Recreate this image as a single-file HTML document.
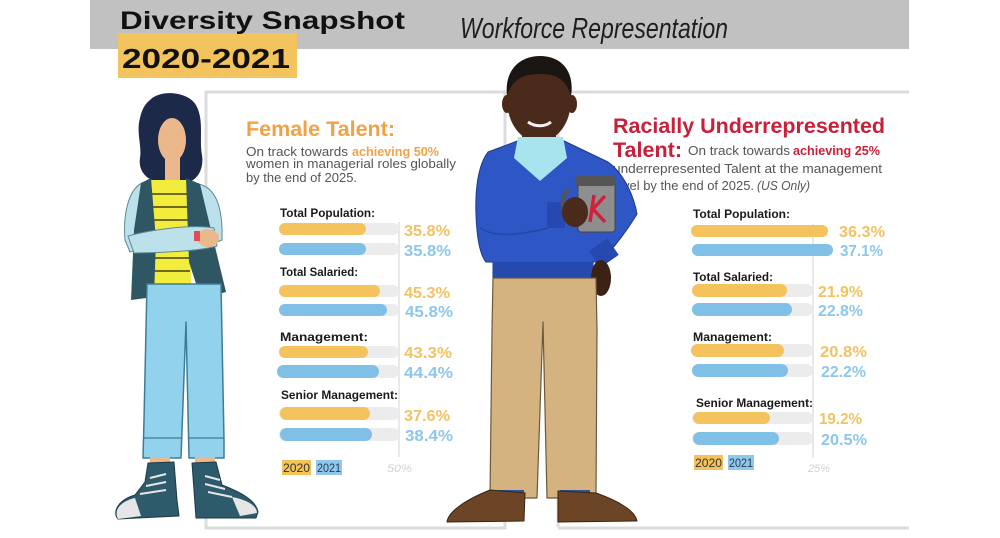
<!DOCTYPE html>
<html>
<head>
<meta charset="utf-8">
<style>
html,body{margin:0;padding:0;background:#fff;}
svg{display:block;}
text{font-family:"Liberation Sans", Arial, sans-serif;}
</style>
</head>
<body>
<svg width="1000" height="538" viewBox="0 0 1000 538" xmlns="http://www.w3.org/2000/svg">
  <rect x="0" y="0" width="1000" height="538" fill="#ffffff"/>

  <!-- Header band -->
  <rect x="90" y="0" width="819" height="49" fill="#c1c1c1"/>
  <rect x="118" y="33" width="179" height="45" fill="#f3c35e"/>
  <text x="120" y="29" font-size="25" font-weight="bold" fill="#111" textLength="285" lengthAdjust="spacingAndGlyphs">Diversity Snapshot</text>
  <text x="122" y="68" font-size="28" font-weight="bold" fill="#111" textLength="168" lengthAdjust="spacingAndGlyphs">2020-2021</text>
  <text x="460" y="38" font-size="29" font-style="italic" fill="#1e1e1e" textLength="268" lengthAdjust="spacingAndGlyphs">Workforce Representation</text>

  <!-- Panels -->
  <rect x="206" y="92" width="299" height="436" fill="none" stroke="#dcdcdc" stroke-width="3"/>
  <path d="M558,527 L558,92 L909,92 M558,528 L909,528" fill="none" stroke="#dcdcdc" stroke-width="3"/>

  <!-- LEFT PANEL TEXT -->
  <text x="246" y="136" font-size="21" font-weight="bold" fill="#f1a247" textLength="149" lengthAdjust="spacingAndGlyphs">Female Talent:</text>
  <text x="246" y="156" font-size="12.5" fill="#555" textLength="102" lengthAdjust="spacingAndGlyphs">On track towards</text>
  <text x="352" y="156" font-size="12.5" font-weight="bold" fill="#f1a247" textLength="87" lengthAdjust="spacingAndGlyphs">achieving 50%</text>
  <text x="246" y="168" font-size="12.5" fill="#555" textLength="210" lengthAdjust="spacingAndGlyphs">women in managerial roles globally</text>
  <text x="246" y="182" font-size="12.5" fill="#555" textLength="111" lengthAdjust="spacingAndGlyphs">by the end of 2025.</text>

  <line x1="399" y1="222" x2="399" y2="457" stroke="#e2e2e2" stroke-width="1.5"/>

  <g font-size="12" font-weight="bold" fill="#1a1a1a">
    <text x="280" y="217" textLength="95" lengthAdjust="spacingAndGlyphs">Total Population:</text>
    <text x="280" y="276" textLength="78" lengthAdjust="spacingAndGlyphs">Total Salaried:</text>
    <text x="280" y="341" textLength="88" lengthAdjust="spacingAndGlyphs">Management:</text>
    <text x="281" y="399" textLength="117" lengthAdjust="spacingAndGlyphs">Senior Management:</text>
  </g>

  <g fill="#ececec">
    <rect x="279" y="223" width="120" height="12" rx="6"/>
    <rect x="279" y="243" width="120" height="12" rx="6"/>
    <rect x="279" y="285" width="120" height="12" rx="6"/>
    <rect x="279" y="304" width="120" height="12" rx="6"/>
    <rect x="279" y="346" width="120" height="12" rx="6"/>
    <rect x="279" y="365" width="120" height="13" rx="6"/>
    <rect x="279" y="407" width="120" height="13" rx="6"/>
    <rect x="279" y="428" width="120" height="13" rx="6"/>
  </g>
  <g fill="#f4c35d">
    <rect x="279" y="223" width="87" height="12" rx="6"/>
    <rect x="279" y="285" width="101" height="12" rx="6"/>
    <rect x="279" y="346" width="89" height="12" rx="6"/>
    <rect x="280" y="407" width="90" height="13" rx="6.5"/>
  </g>
  <g fill="#80c0e7">
    <rect x="279" y="243" width="87" height="12" rx="6"/>
    <rect x="279" y="304" width="108" height="12" rx="6"/>
    <rect x="277" y="365" width="102" height="13" rx="6.5"/>
    <rect x="280" y="428" width="92" height="13" rx="6.5"/>
  </g>
  <g font-size="16" font-weight="bold">
    <text x="404" y="236" fill="#f3c263" textLength="46" lengthAdjust="spacingAndGlyphs">35.8%</text>
    <text x="404" y="256" fill="#8dc7eb" textLength="47" lengthAdjust="spacingAndGlyphs">35.8%</text>
    <text x="404" y="298" fill="#f3c263" textLength="46" lengthAdjust="spacingAndGlyphs">45.3%</text>
    <text x="405" y="317" fill="#8dc7eb" textLength="48" lengthAdjust="spacingAndGlyphs">45.8%</text>
    <text x="404" y="358" fill="#f3c263" textLength="48" lengthAdjust="spacingAndGlyphs">43.3%</text>
    <text x="404" y="378" fill="#8dc7eb" textLength="49" lengthAdjust="spacingAndGlyphs">44.4%</text>
    <text x="404" y="421" fill="#f3c263" textLength="46" lengthAdjust="spacingAndGlyphs">37.6%</text>
    <text x="405" y="441" fill="#8dc7eb" textLength="48" lengthAdjust="spacingAndGlyphs">38.4%</text>
  </g>
  <rect x="282" y="460" width="29" height="15" fill="#f3c35a"/>
  <rect x="316" y="460" width="26" height="15" fill="#8ec8ec"/>
  <text x="283" y="472" font-size="11.5" fill="#333" textLength="27" lengthAdjust="spacingAndGlyphs">2020</text>
  <text x="317" y="472" font-size="11.5" fill="#2a3a55" textLength="24" lengthAdjust="spacingAndGlyphs">2021</text>
  <text x="387" y="472" font-size="11" font-style="italic" fill="#d2d2d2" textLength="25" lengthAdjust="spacingAndGlyphs">50%</text>

  <!-- RIGHT PANEL TEXT -->
  <text x="613" y="133" font-size="21" font-weight="bold" fill="#c8203b" textLength="272" lengthAdjust="spacingAndGlyphs">Racially Underrepresented</text>
  <text x="613" y="157" font-size="21" font-weight="bold" fill="#c8203b" textLength="69" lengthAdjust="spacingAndGlyphs">Talent:</text>
  <text x="688" y="155" font-size="12.5" fill="#555" textLength="102" lengthAdjust="spacingAndGlyphs">On track towards</text>
  <text x="793" y="155" font-size="12.5" font-weight="bold" fill="#c8203b" textLength="87" lengthAdjust="spacingAndGlyphs">achieving 25%</text>
  <text x="613" y="173" font-size="12.5" fill="#555" textLength="269" lengthAdjust="spacingAndGlyphs">underrepresented Talent at the management</text>
  <text x="613" y="190" font-size="12.5" fill="#555" textLength="141" lengthAdjust="spacingAndGlyphs">level by the end of 2025.</text>
  <text x="757" y="190" font-size="12.5" font-style="italic" fill="#555" textLength="53" lengthAdjust="spacingAndGlyphs">(US Only)</text>

  <line x1="813" y1="224" x2="813" y2="458" stroke="#e2e2e2" stroke-width="1.5"/>

  <g font-size="12" font-weight="bold" fill="#1a1a1a">
    <text x="693" y="218" textLength="97" lengthAdjust="spacingAndGlyphs">Total Population:</text>
    <text x="693" y="281" textLength="80" lengthAdjust="spacingAndGlyphs">Total Salaried:</text>
    <text x="693" y="341" textLength="79" lengthAdjust="spacingAndGlyphs">Management:</text>
    <text x="696" y="407" textLength="117" lengthAdjust="spacingAndGlyphs">Senior Management:</text>
  </g>
  <g fill="#ececec">
    <rect x="692" y="284" width="121" height="13" rx="6.5"/>
    <rect x="692" y="303" width="121" height="13" rx="6.5"/>
    <rect x="692" y="344" width="121" height="13" rx="6.5"/>
    <rect x="692" y="364" width="121" height="13" rx="6.5"/>
    <rect x="692" y="412" width="121" height="12" rx="6"/>
    <rect x="692" y="432" width="121" height="13" rx="6.5"/>
  </g>
  <g fill="#f4c35d">
    <rect x="691" y="225" width="137" height="12" rx="6"/>
    <rect x="692" y="284" width="95" height="13" rx="6.5"/>
    <rect x="691" y="344" width="93" height="13" rx="6.5"/>
    <rect x="693" y="412" width="77" height="12" rx="6"/>
  </g>
  <g fill="#80c0e7">
    <rect x="692" y="244" width="141" height="12" rx="6"/>
    <rect x="692" y="303" width="100" height="13" rx="6.5"/>
    <rect x="692" y="364" width="96" height="13" rx="6.5"/>
    <rect x="693" y="432" width="86" height="13" rx="6.5"/>
  </g>
  <g font-size="16" font-weight="bold">
    <text x="839" y="237" fill="#f3c263" textLength="46" lengthAdjust="spacingAndGlyphs">36.3%</text>
    <text x="840" y="256" fill="#8dc7eb" textLength="43" lengthAdjust="spacingAndGlyphs">37.1%</text>
    <text x="818" y="297" fill="#f3c263" textLength="45" lengthAdjust="spacingAndGlyphs">21.9%</text>
    <text x="818" y="316" fill="#8dc7eb" textLength="45" lengthAdjust="spacingAndGlyphs">22.8%</text>
    <text x="820" y="357" fill="#f3c263" textLength="47" lengthAdjust="spacingAndGlyphs">20.8%</text>
    <text x="821" y="377" fill="#8dc7eb" textLength="45" lengthAdjust="spacingAndGlyphs">22.2%</text>
    <text x="819" y="424" fill="#f3c263" textLength="43" lengthAdjust="spacingAndGlyphs">19.2%</text>
    <text x="821" y="445" fill="#8dc7eb" textLength="46" lengthAdjust="spacingAndGlyphs">20.5%</text>
  </g>
  <rect x="694" y="455" width="29" height="15" fill="#f3c35a"/>
  <rect x="728" y="455" width="26" height="15" fill="#8ec8ec"/>
  <text x="695" y="467" font-size="11.5" fill="#333" textLength="27" lengthAdjust="spacingAndGlyphs">2020</text>
  <text x="729" y="467" font-size="11.5" fill="#2a3a55" textLength="24" lengthAdjust="spacingAndGlyphs">2021</text>
  <text x="808" y="472" font-size="11" font-style="italic" fill="#d2d2d2" textLength="22" lengthAdjust="spacingAndGlyphs">25%</text>

  <!-- WOMAN -->
  <g stroke-linejoin="round">
    <path d="M150,100 C160,89 190,91 197,107 C204,122 199,140 202,155 C204,168 198,180 188,182 L158,182 C146,180 138,170 140,158 C142,146 136,132 140,118 C142,109 145,104 150,100 Z" fill="#1d2948"/>
    <ellipse cx="172" cy="140" rx="14" ry="22" fill="#ebb88c"/>
    <rect x="165" y="158" width="15" height="24" fill="#ebb88c"/>
    <path d="M150,180 L190,180 L191,286 L150,286 Z" fill="#f2ec3c"/>
    <g stroke="#6d6a22" stroke-width="2">
      <line x1="150" y1="194" x2="190" y2="194"/>
      <line x1="150" y1="207" x2="190" y2="207"/>
      <line x1="150" y1="220" x2="190" y2="220"/>
      <line x1="150" y1="258" x2="190" y2="258"/>
      <line x1="150" y1="271" x2="190" y2="271"/>
    </g>
    <path d="M142,183 C128,190 123,215 125,240 L130,252 L147,247 L147,205 Z" fill="#bde1eb" stroke="#5a8a98" stroke-width="1"/>
    <path d="M199,184 C215,188 223,205 222,240 L207,246 L204,210 Z" fill="#bde1eb" stroke="#5a8a98" stroke-width="1"/>
    <path d="M151,178 L141,183 L134,230 L131,300 L154,297 L156,240 Z" fill="#2f5663"/>
    <path d="M186,178 L200,184 L211,230 L226,292 L201,299 L189,262 Z" fill="#2f5663"/>
    <path d="M128,236 C150,230 190,224 214,228 L217,246 C200,251 160,253 134,253 Z" fill="#bde1eb" stroke="#5a8a98" stroke-width="1"/>
    <ellipse cx="208" cy="238" rx="11" ry="9" fill="#ebb88c"/>
    <rect x="194" y="231" width="6" height="10" fill="#e24a5a"/>
    <rect x="199" y="302" width="12" height="18" fill="#ffffff" stroke="#aaa" stroke-width="0.8"/>
    <rect x="199" y="302" width="12" height="5" fill="#cc2233"/>
    <path d="M147,284 L221,284 L224,440 L224,458 L189,458 L186,322 L181,458 L143,458 L144,420 Z" fill="#93d2ec" stroke="#3d7d94" stroke-width="1.5"/>
    <line x1="143" y1="438" x2="182" y2="438" stroke="#3d7d94" stroke-width="1.2"/>
    <line x1="189" y1="438" x2="224" y2="438" stroke="#3d7d94" stroke-width="1.2"/>
    <rect x="150" y="457" width="20" height="12" fill="#ebb88c"/>
    <rect x="195" y="457" width="20" height="12" fill="#ebb88c"/>
    <path d="M148,463 L174,462 L177,500 L179,516 L118,519 C112,512 118,500 135,495 L145,482 Z" fill="#2e5b6b" stroke="#1c3a44" stroke-width="1"/>
    <path d="M118,519 C113,509 122,501 135,498 L141,516 Z" fill="#e6e6e6"/>
    <path d="M192,463 L216,462 L222,485 C240,492 256,500 258,512 L256,518 L196,518 Z" fill="#2e5b6b" stroke="#1c3a44" stroke-width="1"/>
    <path d="M232,497 C248,500 257,506 257,513 L240,516 Z" fill="#e6e6e6"/>
    <g stroke="#e6e6e6" stroke-width="2">
      <line x1="150" y1="478" x2="166" y2="474"/>
      <line x1="146" y1="486" x2="166" y2="482"/>
      <line x1="140" y1="494" x2="166" y2="490"/>
      <line x1="205" y1="476" x2="220" y2="480"/>
      <line x1="205" y1="484" x2="225" y2="489"/>
      <line x1="208" y1="492" x2="232" y2="497"/>
    </g>
  </g>

  <!-- MAN -->
  <g stroke-linejoin="round">
    <rect x="522" y="125" width="34" height="25" fill="#4a2a1a"/>
    <ellipse cx="507" cy="104" rx="5" ry="9" fill="#4a2a1a"/>
    <ellipse cx="572" cy="104" rx="5" ry="9" fill="#4a2a1a"/>
    <ellipse cx="539" cy="100" rx="32" ry="42" fill="#4a2a1a"/>
    <path d="M507,96 C504,70 520,56 540,56 C562,56 575,72 571,96 C566,80 558,74 540,74 C522,74 512,80 507,96 Z" fill="#1a1614"/>
    <path d="M528,122 C535,127 545,127 551,122" stroke="#f2f2f2" stroke-width="3" fill="none"/>
    <!-- sweater single blob -->
    <path d="M520,140 L488,152 C478,165 475,190 476,215 C477,240 480,255 486,262 L493,262 L493,278 L593,278 L593,262 L600,262 C612,250 626,232 637,214 C633,192 622,172 608,162 L562,140 L540,180 Z" fill="#2e56c4" stroke="#1c3a8a" stroke-width="1"/>
    <rect x="493" y="262" width="100" height="16" fill="#2649b0"/>
    <path d="M480,228 C495,238 520,235 548,228" stroke="#2348a8" stroke-width="1.5" fill="none"/>
    <rect x="547" y="202" width="18" height="26" fill="#2649b0"/>
    <rect x="593" y="243" width="22" height="20" fill="#2649b0" transform="rotate(-35 604 253)"/>
    <!-- collar -->
    <path d="M518,137 L563,137 L567,158 L540,181 L514,158 Z" fill="#a8e4ee"/>
    <!-- mug -->
    <path d="M570,190 C560,192 560,215 572,220" stroke="#555" stroke-width="4" fill="none"/>
    <rect x="578" y="182" width="37" height="50" rx="3" fill="#8e8e8e" stroke="#444" stroke-width="1"/>
    <rect x="575" y="176" width="40" height="10" rx="3" fill="#555"/>
    <path d="M594,195 L590,222 M605,196 L593,209 L605,222" stroke="#d0203c" stroke-width="3.5" fill="none"/>
    <ellipse cx="575" cy="212" rx="13" ry="15" fill="#4a2a1a"/>
    <ellipse cx="601" cy="278" rx="10" ry="18" fill="#3c2214"/>
    <!-- pants -->
    <path d="M493,278 L596,278 L597,330 L596,498 L547,498 L543,322 L537,498 L490,498 L492,330 Z" fill="#d4b381" stroke="#6b5a3a" stroke-width="1.2"/>
    <rect x="498" y="490" width="26" height="7" fill="#3050a0"/>
    <rect x="560" y="490" width="30" height="7" fill="#3050a0"/>
    <path d="M490,490 L525,493 L524,521 L447,522 C448,512 465,500 490,490 Z" fill="#6b4526" stroke="#3b2410" stroke-width="1"/>
    <path d="M558,491 L596,493 C616,500 635,510 637,521 L558,522 Z" fill="#6b4526" stroke="#3b2410" stroke-width="1"/>
  </g>
</svg>
</body>
</html>
